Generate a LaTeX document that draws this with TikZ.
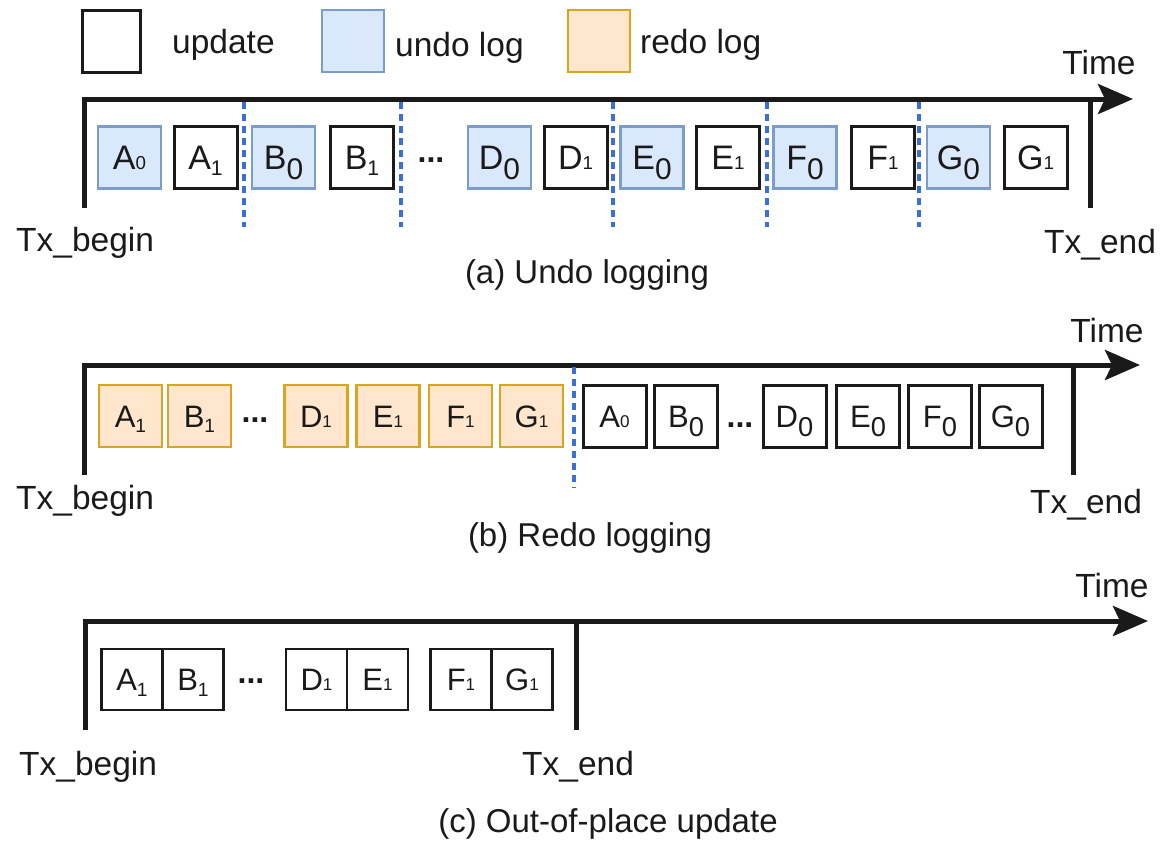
\documentclass[tikz,border=0pt]{standalone}
\usepackage{fontspec}
\setmainfont{Liberation Sans}
\usetikzlibrary{arrows.meta}

\definecolor{undofill}{HTML}{DAE8FC}
\definecolor{undoline}{HTML}{7C9CCB}
\definecolor{redofill}{HTML}{FFE6CC}
\definecolor{redoline}{HTML}{D9A520}
\definecolor{sepblue}{HTML}{3A6FD8}
\definecolor{ink}{HTML}{1A1A1A}

% letter with a dropped, nearly full-size subscript
\newcommand{\subz}[2]{#1\raisebox{-0.29em}{\scalebox{0.88}{#2}}}
% letter with a dropped, small subscript
\newcommand{\subo}[2]{#1\raisebox{-0.18em}{\scalebox{0.62}{#2}}}
% letter with a small index sitting on the baseline
\newcommand{\subb}[2]{#1\scalebox{0.55}{#2}}

\tikzset{
  cell/.style={draw=ink, line width=3pt, fill=white, inner sep=0pt,
    minimum width=63pt, minimum height=62pt, text depth=0pt, text=ink},
  ubox/.style={cell},
  undobox/.style={cell, fill=undofill, draw=undoline, line width=2.2pt},
  redobox/.style={cell, fill=redofill, draw=redoline, line width=2.2pt},
  rowa/.style={font=\fontsize{34}{40}\selectfont, text height=24.3pt},
  rowb/.style={font=\fontsize{31}{36}\selectfont, text height=22.2pt},
  lbl/.style={font=\fontsize{33.5}{40}\selectfont, text=ink, inner sep=0pt},
  subcaption/.style={font=\fontsize{33}{40}\selectfont, text=ink, inner sep=0pt, anchor=base},
  dots/.style={font=\fontsize{32}{36}\selectfont\bfseries, text=ink, inner sep=0pt},
  axis/.style={line width=5pt, draw=ink, line join=miter,
    -{Stealth[length=35pt, width=30pt, inset=7pt]}},
  endbar/.style={line width=5pt, draw=ink},
  sep/.style={draw=sepblue, line width=3.2pt, dash pattern=on 7pt off 5pt},
}

\begin{document}
\begin{tikzpicture}[x=1pt, y=-1pt]
\useasboundingbox (0,0) rectangle (1160,844);

% ---------- legend ----------
\node[cell, minimum width=58pt] (lg-upd) at (111,41) {};
\node[lbl, anchor=base west] (lg-updt) at (172,53) {update};
\node[undobox, minimum width=62pt] (lg-undo) at (353,41) {};
\node[lbl, anchor=base west] (lg-undot) at (395,56) {undo log};
\node[redobox, minimum width=62pt] (lg-redo) at (599,41) {};
\node[lbl, anchor=base west] (lg-redot) at (640,53) {redo log};

% ---------- (a) undo logging ----------
\coordinate (a-begin) at (84,208);
\coordinate (a-tip) at (1133,99);
\coordinate (a-endtop) at (1090,99);
\coordinate (a-endbot) at (1090,208);
\draw[axis] (a-begin) |- (a-tip);
\draw[endbar] (a-endtop) -- (a-endbot);
\foreach \x in {244,401,613,767,919}
  \draw[sep] (\x,102) -- (\x,227);
\foreach \n/\x/\s/\t in {
  A0/129.5/undobox/{\subb{A}{0}}, A1/205.5/ubox/{\subo{A}{1}},
  B0/283.5/undobox/{\subz{B}{0}}, B1/362/ubox/{\subo{B}{1}},
  D0/499.5/undobox/{\subz{D}{0}}, D1/575.5/ubox/{\subb{D}{1}},
  E0/652/undobox/{\subz{E}{0}},   E1/728/ubox/{\subb{E}{1}},
  F0/805/undobox/{\subz{F}{0}},   F1/883/ubox/{\subb{F}{1}},
  G0/958.5/undobox/{\subz{G}{0}}, G1/1035.5/ubox/{\subb{G}{1}}}
  \node[\s, rowa] (a-\n) at (\x,157.5) {\t};
\node[dots] (a-dots) at (431,160) {...};
\node[lbl, anchor=base west] (a-txb) at (16,251) {Tx\_begin};
\node[lbl, anchor=base west] (a-txe) at (1044,253) {Tx\_end};
\node[lbl, anchor=base] (a-time) at (1099,74) {Time};
\node[subcaption] (a-cap) at (587,283) {(a) Undo logging};

% ---------- (b) redo logging ----------
\coordinate (b-begin) at (84,475);
\coordinate (b-tip) at (1140,365);
\coordinate (b-endtop) at (1073,365);
\coordinate (b-endbot) at (1073,475);
\draw[axis] (b-begin) |- (b-tip);
\draw[endbar] (b-endtop) -- (b-endbot);
\draw[sep] (574,367) -- (574,488);
\foreach \n/\x/\s/\t in {
  A1/130.5/redobox/{\subo{A}{1}}, B1/199.5/redobox/{\subo{B}{1}},
  D1/316/redobox/{\subb{D}{1}},   E1/388/redobox/{\subb{E}{1}},
  F1/460.5/redobox/{\subb{F}{1}}, G1/531.5/redobox/{\subb{G}{1}},
  A0/614.5/ubox/{\subb{A}{0}},    B0/686/ubox/{\subz{B}{0}},
  D0/794.5/ubox/{\subz{D}{0}},    E0/868/ubox/{\subz{E}{0}},
  F0/940/ubox/{\subz{F}{0}},      G0/1010.5/ubox/{\subz{G}{0}}}
  \node[\s, rowb] (b-\n) at (\x,416) {\t};
\node[dots] (b-dots1) at (255,420) {...};
\node[dots] (b-dots2) at (740,425) {...};
\node[lbl, anchor=base west] (b-txb) at (16,509) {Tx\_begin};
\node[lbl, anchor=base west] (b-txe) at (1030,513) {Tx\_end};
\node[lbl, anchor=base] (b-time) at (1107,342) {Time};
\node[subcaption] (b-cap) at (590,546) {(b) Redo logging};

% ---------- (c) out-of-place update ----------
\coordinate (c-begin) at (85,730);
\coordinate (c-tip) at (1148,621);
\coordinate (c-endtop) at (576,621);
\coordinate (c-endbot) at (576,730);
\draw[axis] (c-begin) |- (c-tip);
\draw[endbar] (c-endtop) -- (c-endbot);
\foreach \n/\x/\t in {
  A1/132/{\subo{A}{1}},   B1/193/{\subo{B}{1}},
  D1/316.5/{\subb{D}{1}}, E1/377.5/{\subb{E}{1}},
  F1/461/{\subb{F}{1}},   G1/522/{\subb{G}{1}}}
  \node[ubox, rowb, minimum width=61pt, minimum height=61pt, line width=2.5pt] (c-\n) at (\x,679.5) {\t};
\node[dots] (c-dots) at (251,681) {...};
\node[lbl, anchor=base west] (c-txb) at (19,775) {Tx\_begin};
\node[lbl, anchor=base west] (c-txe) at (522,775) {Tx\_end};
\node[lbl, anchor=base] (c-time) at (1112,597) {Time};
\node[subcaption] (c-cap) at (608,832) {(c) Out-of-place update};
\end{tikzpicture}
\end{document}
